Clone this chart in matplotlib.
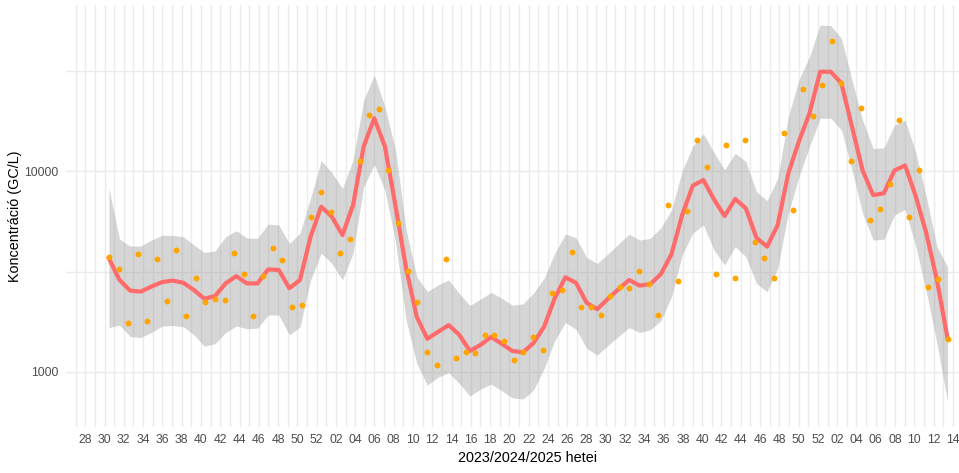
import numpy as np
import matplotlib
matplotlib.use('Agg')
import matplotlib.pyplot as plt

plt.rcParams['font.family'] = ['Liberation Sans', 'DejaVu Sans']

# ISO weeks shown on the axis: 2023 w28 .. 2025 w14
year_weeks = list(range(28, 53)) + list(range(1, 53)) + list(range(1, 15))
first_data_week = 2  # index of 2023 w30

# measured weekly concentrations (GC/L), 2023 w30 .. 2025 w13
concentration = [3720, 3240, 1760, 3850, 1790, 3640, 2250, 4040, 1890, 2930,
                 2220, 2300, 2270, 3900, 3060, 1890, 3000, 4130, 3600, 2100,
                 2150, 5900, 7860, 6240, 3900, 4580, 11200, 19000, 20400, 10200,
                 5500, 3170, 2220, 1250, 1080, 3640, 1170, 1250, 1240, 1520,
                 1520, 1430, 1150, 1250, 1490, 1290, 2460, 2550, 3940, 2100,
                 2100, 1910, 2380, 2640, 2610, 3170, 2730, 1910, 6770, 2830,
                 6320, 14400, 10500, 3060, 13500, 2930, 14400, 4420, 3680, 2930,
                 15500, 6390, 25700, 18800, 26900, 44500, 27500, 11200, 20600, 5690,
                 6460, 8610, 18000, 5900, 10100, 2640, 2890, 1450]

# smoothed trend and its confidence band (80 evaluation points)
smooth_fit = [3680, 2870, 2540, 2510, 2660, 2800, 2850, 2780, 2560, 2310,
              2390, 2760, 3000, 2760, 2760, 3240, 3220, 2610, 2870, 4720,
              6660, 5940, 4810, 6790, 13300, 18400, 13300, 6710, 3280, 1880,
              1460, 1580, 1710, 1530, 1270, 1360, 1490, 1380, 1270, 1250,
              1390, 1680, 2330, 2960, 2780, 2210, 2050, 2310, 2580, 2870,
              2690, 2740, 3070, 3870, 6050, 8480, 9050, 7250, 5980, 7280,
              6540, 4660, 4210, 5400, 9770, 14100, 19500, 31400, 31400, 27500,
              16700, 10100, 7610, 7770, 10100, 10700, 7530, 4910, 2870, 1470]
smooth_upper = [8230, 4590, 4240, 4240, 4540, 4790, 4790, 4720, 4290, 3940,
                4000, 4720, 5050, 4650, 4630, 5460, 5400, 4370, 4910, 7340,
                11300, 9840, 8230, 11400, 22700, 30200, 21000, 12800, 5090, 2980,
                2510, 2710, 2870, 2460, 2140, 2300, 2490, 2330, 2150, 2180,
                2470, 2930, 3900, 4870, 4660, 3720, 3470, 3870, 4340, 4850,
                4540, 4630, 5230, 6410, 10000, 13300, 15400, 12400, 10200, 12300,
                11200, 7910, 7140, 9230, 18700, 28600, 37300, 53700, 53400, 46100,
                28600, 18000, 13000, 13100, 17000, 18000, 12500, 7470, 4210, 3340]
smooth_lower = [1660, 1710, 1500, 1480, 1570, 1690, 1700, 1680, 1530, 1340,
                1380, 1570, 1690, 1640, 1650, 1920, 1920, 1530, 1670, 2870,
                3900, 3470, 2870, 3900, 8380, 10800, 8070, 4450, 1810, 1100,
                858, 938, 989, 875, 757, 817, 868, 804, 742, 731,
                810, 1040, 1430, 1760, 1630, 1310, 1210, 1350, 1500, 1660,
                1570, 1620, 1800, 2370, 3820, 4910, 5400, 4050, 3410, 4210,
                3750, 2760, 2510, 3280, 6170, 9400, 13300, 18400, 18400, 16100,
                10200, 6170, 4540, 4580, 6050, 6460, 4240, 2510, 1390, 709]

y_breaks = [1000, 10000]
y_minor = [3162.3, 31623]

W, H = 959, 473
fig = plt.figure(figsize=(W / 100, H / 100), dpi=100)
ax = fig.add_axes([66 / W, 1 - 427 / H, (W - 66) / W, (427 - 5) / H])

sample_offset = 0.45  # samples taken mid-week
x_pts = np.arange(len(concentration)) + first_data_week + sample_offset
x_smooth = np.linspace(x_pts[0], x_pts[-1], len(smooth_fit))

ax.fill_between(x_smooth, smooth_lower, smooth_upper, color='#999999',
                alpha=0.4, linewidth=0, zorder=2)
ax.plot(x_smooth, smooth_fit, color='#FF6A6A', linewidth=3.0, zorder=3)
ax.scatter(x_pts, concentration, s=18, color='#FFA500', linewidths=0, zorder=4)

ax.set_yscale('log')

major_x = list(range(0, len(year_weeks), 2))
ax.set_xticks(major_x)
ax.set_xticklabels([f"{year_weeks[i]:02d}" for i in major_x])
ax.set_xticks(list(range(-1, len(year_weeks), 2)), minor=True)
ax.set_yticks(y_breaks)
ax.set_yticklabels([str(v) for v in y_breaks])
ax.set_yticks(y_minor, minor=True)
ax.yaxis.set_minor_formatter(plt.NullFormatter())

ax.set_ylim(530, 67600)
ax.set_xlim(-2.0, 90.64)

ax.grid(True, which='both', color='#EBEBEB', linewidth=1.0)
ax.set_axisbelow(True)
for s in ax.spines.values():
    s.set_visible(False)
ax.tick_params(which='both', length=0)
ax.tick_params(axis='x', which='major', labelsize=8.8, labelcolor='#4D4D4D', pad=5)
ax.tick_params(axis='y', which='major', labelsize=8.8, labelcolor='#4D4D4D', pad=5.5)

fig.text(528 / W, 1 - 458 / H, '2023/2024/2025 hetei', ha='center', va='center',
         fontsize=10.4, color='black')
fig.text(15 / W, 1 - 216 / H, 'Koncentráció (GC/L)', ha='center', va='center',
         rotation=90, fontsize=10.4, color='black')

fig.savefig('out.png', dpi=100)
